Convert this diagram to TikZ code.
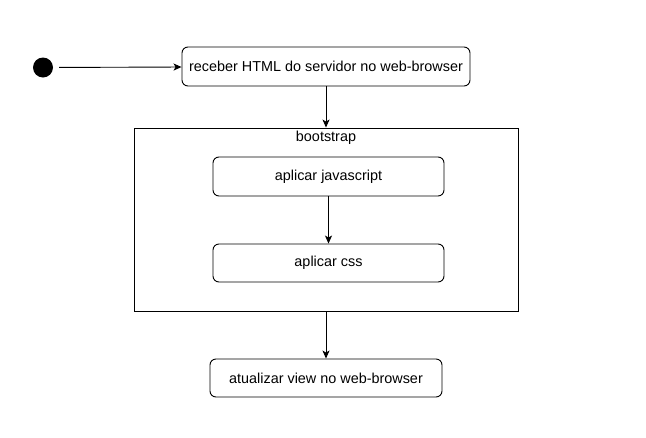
\documentclass[tikz,border=0pt]{standalone}
\usepackage{fontspec}
\setmainfont{Liberation Sans}
\usetikzlibrary{arrows.meta}
\begin{document}
\begin{tikzpicture}[x=1pt,y=-1pt,
  act/.style={draw,line width=0.9pt,rounded corners=6pt,inner sep=0pt,font=\fontsize{14.4}{16}\selectfont},
  arr/.style={line width=0.9pt,-{Stealth[length=8pt,width=7pt,inset=2pt]}},
  lbl/.style={font=\fontsize{14.4}{16}\selectfont,inner sep=0pt}]
\useasboundingbox (0,0) rectangle (646,437);
\node[circle,fill=black,minimum size=20pt,inner sep=0pt] (start) at (43,67.5) {};
\node[act,minimum width=288pt,minimum height=39pt] (b1) at (326,66.5) {receber HTML do servidor no web-browser};
\node[draw,line width=0.9pt,minimum width=384pt,minimum height=183pt,inner sep=0pt] (boot) at (326,219.5) {};
\node[lbl] (bl) at (326,138) {bootstrap};
\node[act,minimum width=231pt,minimum height=39pt] (js) at (328.5,176.5) {aplicar javascript};
\node[act,minimum width=231pt,minimum height=38pt] (css) at (328.5,263) {aplicar css};
\node[act,minimum width=232pt,minimum height=38pt] (upd) at (326,378) {atualizar view no web-browser};
\draw[arr,shorten <=6pt] (start) -- (b1);
\draw[arr] (b1) -- (b1 |- boot.north);
\draw[arr] (js) -- (css);
\draw[arr] (upd |- boot.south) -- (upd);
\end{tikzpicture}
\end{document}
